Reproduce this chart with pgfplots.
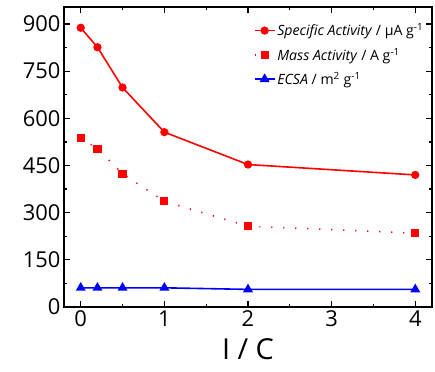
\documentclass[border=0pt]{standalone}
\usepackage{pgfplots}
\pgfplotsset{compat=1.18}
\usepackage{fontspec}
\setmainfont{Open Sans}
\begin{document}
\begin{tikzpicture}
\useasboundingbox (-64bp,-65bp) rectangle (371bp,307bp);
\begin{axis}[
  at={(0,0)}, anchor=south west,
  scale only axis, width=368bp, height=300bp,
  xmin=-0.2, xmax=4.2, ymin=0, ymax=954,
  xtick={0,1,2,3,4}, minor x tick num=1,
  ytick={0,150,300,450,600,750,900}, minor y tick num=1,
  tick align=inside, major tick length=6bp, minor tick length=3.5bp,
  axis line style={line width=1.6bp},
  every tick/.style={black, line width=1.2bp},
  tick label style={font=\fontsize{22}{24}\selectfont},
  /pgf/number format/assume math mode=true,
  xlabel={I / C}, xlabel style={font=\fontsize{29}{32}\selectfont, yshift=-5bp},
  legend style={draw=none, fill=none, font=\fontsize{14.2}{16}\selectfont,
    at={(0.985,0.955)}, anchor=north east, row sep=6.5bp, inner sep=1bp},
  legend cell align=left,
  legend image code/.code={\draw[mark repeat=2,mark phase=2,#1] plot coordinates {(0cm,0cm)(0.35cm,0cm)(0.7cm,0cm)};},
]
\addplot[red, line width=1.6bp, mark=*, mark size=3.3bp, mark options={solid}] coordinates {
(0,888) (0.2,826) (0.5,698) (1,556) (2,453) (4,420)};
\addlegendentry{\textit{Specific Activity} / μA g\textsuperscript{-1}}
\addplot[red, line width=1.6bp, dash pattern=on 1.2bp off 10.8bp, mark=square*, mark size=3.3bp, mark options={solid}] coordinates {
(0,538) (0.2,503) (0.5,424) (1,336) (2,257) (4,235)};
\addlegendentry{\textit{Mass Activity} / A g\textsuperscript{-1}}
\addplot[blue, line width=1.6bp, mark=triangle*, mark size=4.2bp, mark options={solid}] coordinates {
(0,61) (0.2,61) (0.5,61) (1,61) (2,56) (4,56)};
\addlegendentry{\textit{ECSA} / m\textsuperscript{2} g\textsuperscript{-1}}
\end{axis}
\end{tikzpicture}
\end{document}
